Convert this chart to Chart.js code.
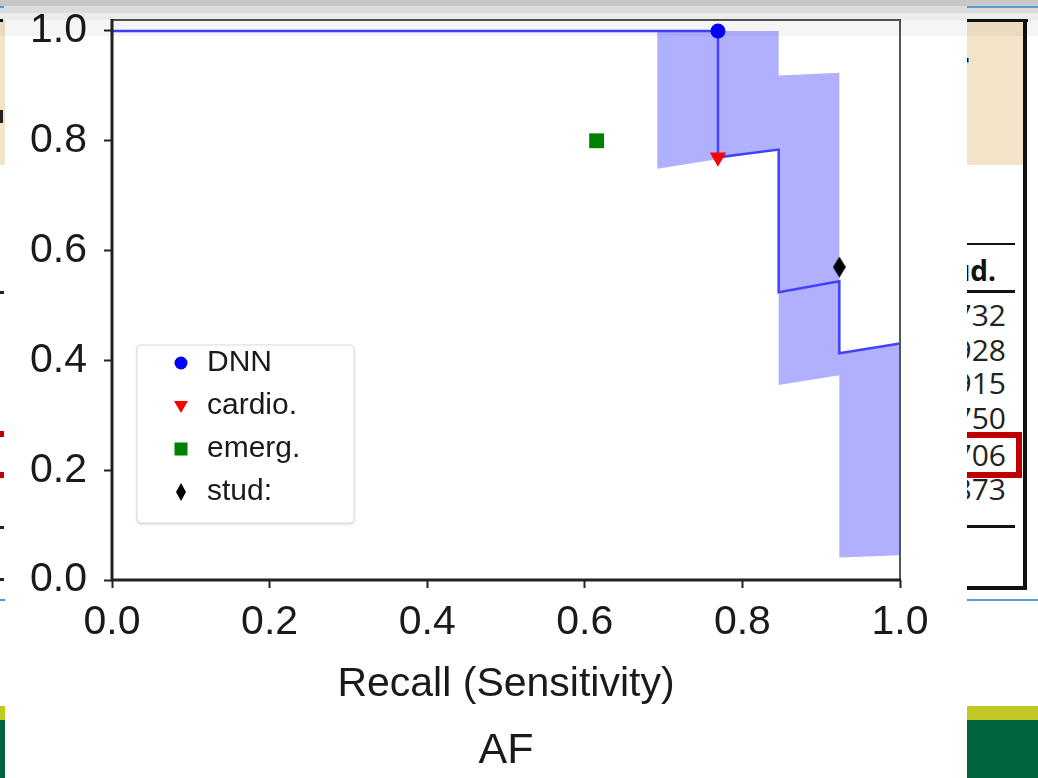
<!DOCTYPE html>
<html>
<head>
<meta charset="utf-8">
<script src="https://cdn.jsdelivr.net/npm/chart.js@4.4.0/dist/chart.umd.min.js"></script>
<style>
  html, body { margin: 0; padding: 0; }
  body { width: 1038px; height: 778px; position: relative; overflow: hidden; background: #fff; font-family: "Liberation Sans", Arial, sans-serif; }
  .a { position: absolute; }
  #plot { position: absolute; left: 5px; top: 0; width: 962px; height: 778px; background: #fff; }
  #lside { position: absolute; left: 0; top: 0; width: 5px; height: 778px; overflow: hidden; }
  #rside { position: absolute; left: 967px; top: 0; width: 71px; height: 778px; overflow: hidden; background: #fff; }
  .num { position: absolute; right: 32px; font: 30px "Open Sans", "Noto Sans", sans-serif; line-height: 30px; color: #222; white-space: nowrap; }
  #shade { position: absolute; left: 0; top: 0; width: 1038px; height: 36px; pointer-events: none;
    background: linear-gradient(to bottom, rgba(0,0,0,0.22) 0, rgba(0,0,0,0.22) 6px, rgba(0,0,0,0.14) 6px, rgba(0,0,0,0.14) 13px,
      rgba(0,0,0,0.08) 13px, rgba(0,0,0,0.08) 20px, rgba(0,0,0,0.04) 20px, rgba(0,0,0,0.04) 36px); }
</style>
</head>
<body>

<div id="lside">
  <div class="a" style="left:0;top:20px;width:5px;height:145px;background:#f3e3c8"></div>
  <div class="a" style="left:0;top:19px;width:3px;height:3px;background:#111"></div>
  <div class="a" style="left:0;top:110px;width:3px;height:13px;background:#222"></div>
  <div class="a" style="left:0;top:291px;width:4px;height:3px;background:#222"></div>
  <div class="a" style="left:0;top:431px;width:4px;height:6px;background:#c00000"></div>
  <div class="a" style="left:0;top:472px;width:4px;height:6px;background:#c00000"></div>
  <div class="a" style="left:0;top:526px;width:4px;height:3px;background:#222"></div>
  <div class="a" style="left:0;top:578px;width:4px;height:3px;background:#222"></div>
  <div class="a" style="left:0;top:599px;width:5px;height:2px;background:#5b9bd5"></div>
  <div class="a" style="left:0;top:706px;width:5px;height:14px;background:#c0c823"></div>
  <div class="a" style="left:0;top:720px;width:5px;height:58px;background:#00653f"></div>
</div>

<div id="plot"><canvas id="indicatorChart" width="962" height="778"></canvas></div>

<div id="rside">
  <div class="a" style="left:0;top:20px;width:56px;height:145px;background:#f3e3c8"></div>
  <div class="a" style="left:0;top:19px;width:61px;height:3px;background:#111"></div>
  <div class="a" style="left:56px;top:19px;width:4px;height:571px;background:#111"></div>
  <div class="a" style="left:0;top:586px;width:60px;height:4px;background:#111"></div>
  <div class="a" style="left:-12px;top:45px;font:bold 36px 'Liberation Sans';color:#111">r</div>
  <div class="a" style="left:0;top:243px;width:48px;height:2px;background:#111"></div>
  <div class="a" style="left:0;top:290px;width:48px;height:3px;background:#111"></div>
  <div class="a" style="left:0;top:525px;width:48px;height:3px;background:#111"></div>
  <div class="a" style="right:42px;top:255px;font:bold 28px 'Open Sans','Noto Sans';line-height:30px;color:#111;white-space:nowrap">Stud.</div>
  <div class="num" style="top:300px">0.732</div>
  <div class="num" style="top:335px">0.928</div>
  <div class="num" style="top:368px">0.915</div>
  <div class="num" style="top:403px">0.750</div>
  <div class="num" style="top:440px">0.706</div>
  <div class="num" style="top:474px">0.873</div>
  <div class="a" style="left:-12px;top:432px;width:67px;height:46px;box-sizing:border-box;border:6px solid #c00000"></div>
  <div class="a" style="left:0;top:599px;width:71px;height:2px;background:#5b9bd5"></div>
  <div class="a" style="left:0;top:706px;width:71px;height:14px;background:#c0c823"></div>
  <div class="a" style="left:0;top:720px;width:71px;height:58px;background:#00653f"></div>
</div>

<div id="shade"></div>
<div class="a" style="left:967px;top:6px;width:71px;height:2px;background:#5b9bd5"></div>
<div class="a" style="left:0;top:6px;width:4px;height:2px;background:#5b9bd5"></div>

<script>
// precision-recall curve of the DNN
const curveRecall = [0, 0.769, 0.769, 0.846, 0.846, 0.923, 0.923, 1.0];
const curvePrecision = [1.0, 1.0, 0.77, 0.784, 0.524, 0.544, 0.413, 0.431];

// confidence band around the curve
const bandRecall = [0.692, 0.846, 0.846, 0.923, 0.923, 1.0];
const bandUpper = [1.0, 1.0, 0.919, 0.924, 0.413, 0.431];
const bandLower = [0.749, 0.784, 0.355, 0.373, 0.041, 0.045];

// single operating points
const pointNames = ["DNN", "cardio.", "emerg.", "stud:"];
const pointRecall = [0.769, 0.769, 0.615, 0.923];
const pointPrecision = [1.0, 0.77, 0.80, 0.57];

const recallTicks = [0, 0.2, 0.4, 0.6, 0.8, 1.0];
const precisionTicks = [0, 0.2, 0.4, 0.6, 0.8, 1.0];

const FONT = "'Liberation Sans', Arial, sans-serif";
const TEXT = "#1a1a1a";

function thinDiamond(w, h) {
    const c = document.createElement("canvas");
    c.width = w;
    c.height = h;
    const g = c.getContext("2d");
    g.fillStyle = "#000";
    g.beginPath();
    g.moveTo(w / 2, 0);
    g.lineTo(w, h / 2);
    g.lineTo(w / 2, h);
    g.lineTo(0, h / 2);
    g.closePath();
    g.fill();
    return c;
}

const markers = [
    { color: "#0000ff", style: "circle", radius: 7.5, rotation: 0 },
    { color: "#ff0000", style: "triangle", radius: 9.5, rotation: 180 },
    { color: "#008000", style: "rect", radius: 10.5, rotation: 0 },
    { color: "#000000", style: thinDiamond(13, 21), radius: 8, rotation: 0 }
];

const bandPolygon = bandRecall.map((x, i) => ({ x: x, y: bandUpper[i] }))
    .concat(bandRecall.map((x, i) => ({ x: x, y: bandLower[i] })).reverse());

const datasets = [
    {
        label: "band",
        data: bandPolygon,
        borderColor: "transparent",
        borderWidth: 0,
        backgroundColor: "rgba(0,0,255,0.31)",
        fill: "shape",
        pointRadius: 0,
        tension: 0,
        order: 10
    },
    {
        label: "curve",
        data: curveRecall.map((x, i) => ({ x: x, y: curvePrecision[i] })),
        borderColor: "rgb(65,65,255)",
        borderWidth: 2.5,
        fill: false,
        pointRadius: 0,
        tension: 0,
        order: 5
    }
];

pointNames.forEach((name, i) => {
    const m = markers[i];
    datasets.push({
        label: name,
        data: [{ x: pointRecall[i], y: pointPrecision[i] }],
        showLine: false,
        fill: false,
        pointStyle: m.style,
        pointRadius: m.radius,
        pointRotation: m.rotation,
        pointBackgroundColor: m.color,
        pointBorderWidth: 0,
        order: 0
    });
});

// top/right spines thin, left/bottom heavy
const frame = {
    id: "frame",
    afterDraw(chart) {
        const { ctx, chartArea: a } = chart;
        ctx.save();
        ctx.strokeStyle = "#555";
        ctx.lineWidth = 2;
        ctx.beginPath();
        ctx.moveTo(a.left, a.top);
        ctx.lineTo(a.right, a.top);
        ctx.lineTo(a.right, a.bottom);
        ctx.stroke();
        ctx.strokeStyle = "#222";
        ctx.lineWidth = 3;
        ctx.beginPath();
        ctx.moveTo(a.left, a.top - 1);
        ctx.lineTo(a.left, a.bottom);
        ctx.lineTo(a.right + 1, a.bottom);
        ctx.stroke();
        ctx.restore();
    }
};

function legendMarker(ctx, i, x, y) {
    ctx.fillStyle = markers[i].color;
    ctx.beginPath();
    if (i === 0) {
        ctx.arc(x, y, 6.5, 0, Math.PI * 2);
    } else if (i === 1) {
        ctx.moveTo(x - 7, y - 5);
        ctx.lineTo(x + 7, y - 5);
        ctx.lineTo(x, y + 7);
        ctx.closePath();
    } else if (i === 2) {
        ctx.rect(x - 6.5, y - 6.5, 13, 13);
    } else {
        ctx.moveTo(x, y - 9);
        ctx.lineTo(x + 5, y);
        ctx.lineTo(x, y + 9);
        ctx.lineTo(x - 5, y);
        ctx.closePath();
    }
    ctx.fill();
}

const legendBox = {
    id: "legendBox",
    afterDraw(chart) {
        const { ctx, chartArea: a } = chart;
        const x = a.left + 25, y = a.top + 325, w = 217, h = 178;
        ctx.save();
        ctx.shadowColor = "rgba(0,0,0,0.2)";
        ctx.shadowBlur = 3;
        ctx.shadowOffsetY = 1;
        ctx.fillStyle = "#fff";
        ctx.beginPath();
        ctx.roundRect(x, y, w, h, 4);
        ctx.fill();
        ctx.shadowColor = "transparent";
        ctx.strokeStyle = "#dcdcdc";
        ctx.lineWidth = 1;
        ctx.stroke();
        ctx.font = "30px " + FONT;
        ctx.textBaseline = "middle";
        pointNames.forEach((name, i) => {
            const cy = y + 18 + i * 43;
            legendMarker(ctx, i, x + 44, cy);
            ctx.fillStyle = TEXT;
            ctx.fillText(name, x + 70, cy);
        });
        ctx.restore();
    }
};

const ctx = document.getElementById("indicatorChart");

new Chart(ctx, {

    type: "line",

    data: { datasets: datasets },

    plugins: [frame, legendBox],

    options: {

        responsive: false,
        devicePixelRatio: 1,
        animation: false,
        events: [],

        layout: {
            padding: { left: 0, right: 67, top: 20, bottom: 1 }
        },

        plugins: {
            legend: { display: false },
            tooltip: { enabled: false },
            title: {
                display: true,
                text: "AF",
                position: "bottom",
                fullSize: false,
                color: TEXT,
                font: { family: FONT, size: 43, weight: "normal" },
                padding: 0
            }
        },

        scales: {

            x: {
                type: "linear",
                min: 0,
                max: 1,
                afterBuildTicks: (s) => { s.ticks = recallTicks.map(v => ({ value: v })); },
                afterFit: (s) => { s.height = 145.4; s.paddingLeft = 0; s.paddingRight = 0; },
                border: { display: false },
                grid: { drawOnChartArea: false, drawTicks: true, tickLength: 8, tickWidth: 2, tickColor: "#222" },
                ticks: {
                    color: TEXT,
                    padding: 10,
                    font: { family: FONT, size: 41 },
                    callback: (v) => Number(v).toFixed(1)
                },
                title: {
                    display: true,
                    text: "Recall (Sensitivity)",
                    color: TEXT,
                    font: { family: FONT, size: 41 },
                    padding: { top: 0, bottom: 16 }
                }
            },

            y: {
                type: "linear",
                min: 0,
                max: 1.02,
                afterBuildTicks: (s) => { s.ticks = precisionTicks.map(v => ({ value: v })); },
                afterFit: (s) => { s.width = 107; s.paddingTop = 0; s.paddingBottom = 0; },
                border: { display: false },
                grid: { drawOnChartArea: false, drawTicks: true, tickLength: 8, tickWidth: 2, tickColor: "#222" },
                ticks: {
                    color: TEXT,
                    padding: 17,
                    font: { family: FONT, size: 41 },
                    callback: (v) => Number(v).toFixed(1)
                }
            }
        }
    }
});
</script>
</body>
</html>
